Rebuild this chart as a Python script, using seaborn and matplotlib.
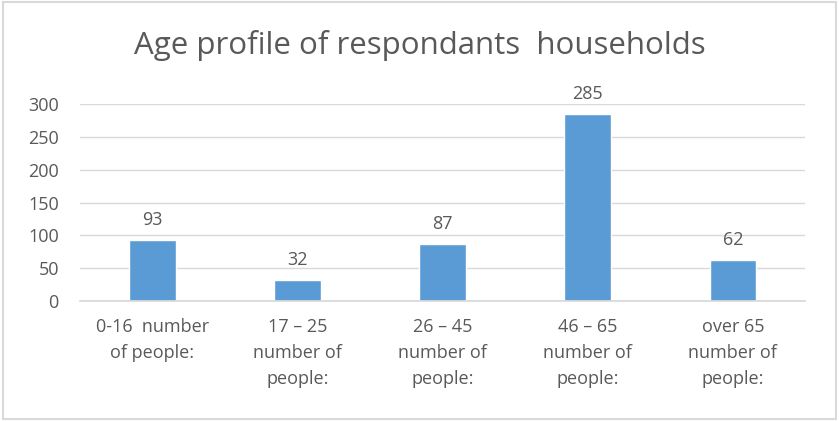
import matplotlib
matplotlib.use("Agg")
import matplotlib.pyplot as plt
import seaborn as sns
import pandas as pd
from matplotlib.patches import Rectangle

categories = ["0-16  number\nof people:", "17 – 25\nnumber of\npeople:", "26 – 45\nnumber of\npeople:",
              "46 – 65\nnumber of\npeople:", "over 65\nnumber of\npeople:"]
values = [93, 32, 87, 285, 62]
yticks = [0, 50, 100, 150, 200, 250, 300]
title = "Age profile of respondants  households"

sns.set_theme(style="white")
plt.rcParams['font.family'] = ['Open Sans', 'DejaVu Sans']
text_color = "#595959"

df = pd.DataFrame({"cat": categories, "val": values})
fig = plt.figure(figsize=(8.39, 4.21), dpi=100)
ax = fig.add_axes([0.095, 0.285, 0.865, 0.468])
sns.barplot(data=df, x="cat", y="val", color="#5B9BD5", width=0.32, ax=ax, saturation=1)

ax.set_ylim(0, 300)
ax.set_yticks(yticks)
ax.set_yticklabels([str(t) for t in yticks], color=text_color, fontsize=13)
ax.tick_params(axis='x', colors=text_color, labelsize=13, length=0, pad=12)
ax.tick_params(axis='y', length=0, pad=15)
ax.grid(axis='y', color="#D9D9D9", linewidth=1)
ax.set_axisbelow(True)
for s in ["top", "right", "left"]:
    ax.spines[s].set_visible(False)
ax.spines["bottom"].set_color("#D9D9D9")
ax.set_xlabel("")
ax.set_ylabel("")
for lbl in ax.get_xticklabels():
    lbl.set_linespacing(1.6)

for i, v in enumerate(values):
    ax.annotate(str(v), (i, v), xytext=(0, 8), textcoords="offset points",
                ha="center", va="bottom", color=text_color, fontsize=13)

fig.text(0.5, 0.893, title, ha="center", va="center", fontsize=22.5, color=text_color)
fig.patches.append(Rectangle((0.003, 0.005), 0.994, 0.99, transform=fig.transFigure,
                             fill=False, edgecolor="#D9D9D9", linewidth=1.5))
fig.savefig("out.png", dpi=100)
